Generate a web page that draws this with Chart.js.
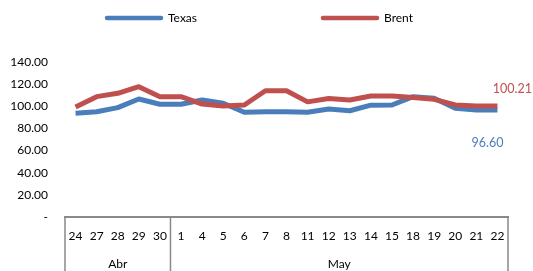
<!DOCTYPE html>
<html><head><meta charset="utf-8">
<script src="https://cdn.jsdelivr.net/npm/chart.js@4.4.0/dist/chart.umd.min.js"></script>
<style>html,body{margin:0;padding:0;background:#fff}#wrap{width:533px;height:271px;position:relative}</style>
</head><body><div id="wrap"><canvas id="c"></canvas></div>
<script>
const days = ['24','27','28','29','30','1','4','5','6','7','8','11','12','13','14','15','18','19','20','21','22'];
const months = ['Abr','May'];
const monthSpans = [5, 16];
const texas = [93.7,95.0,98.8,106.6,101.8,101.8,105.7,102.7,94.6,95.0,95.0,94.6,97.6,96.0,101.0,101.2,108.7,107.2,98.2,96.7,96.60];
const brent = [99.4,108.7,111.7,117.7,108.7,108.7,102.0,100.3,101.2,114.0,114.0,104.0,107.1,105.7,109.3,109.3,108.0,106.3,101.2,100.3,100.21];
const yMax = 140, yStep = 20;

const FONT = 'Lato, "Open Sans", sans-serif';
const BLUE = '#4A7EBB', RED = '#C0504D', GRAY = '#898989';

const customPlugin = {
  id: 'custom',
  afterDraw(chart) {
    const ctx = chart.ctx;
    const x = chart.scales.x;
    const area = chart.chartArea;
    ctx.save();
    // legend
    const legendItems = [{ds: 0, x: 107}, {ds: 1, x: 323}];
    ctx.font = '12px ' + FONT;
    ctx.textBaseline = 'middle';
    ctx.textAlign = 'left';
    legendItems.forEach(it => {
      const ds = chart.data.datasets[it.ds];
      ctx.strokeStyle = ds.borderColor;
      ctx.lineWidth = 4.5;
      ctx.lineCap = 'round';
      ctx.beginPath(); ctx.moveTo(it.x, 18); ctx.lineTo(it.x + 54, 18); ctx.stroke();
      ctx.fillStyle = '#000';
      ctx.fillText(ds.label, it.x + 61, 18);
    });
    // group box lines
    const bounds = [area.left];
    let idx = 0;
    monthSpans.forEach((n, i) => {
      idx += n;
      if (idx < days.length) bounds.push((x.getPixelForTick(idx - 1) + x.getPixelForTick(idx)) / 2);
    });
    bounds.push(area.right);
    ctx.strokeStyle = GRAY; ctx.lineWidth = 1.5; ctx.lineCap = 'butt';
    bounds.forEach(b => {
      ctx.beginPath(); ctx.moveTo(b, area.bottom); ctx.lineTo(b, chart.height); ctx.stroke();
    });
    ctx.fillStyle = '#000'; ctx.textAlign = 'center'; ctx.font = '12px ' + FONT;
    months.forEach((m, i) => {
      ctx.fillText(m, (bounds[i] + bounds[i + 1]) / 2, 264);
    });
    // data labels for last points
    ctx.font = '12.5px ' + FONT;
    const m0 = chart.getDatasetMeta(0), m1 = chart.getDatasetMeta(1);
    const p0 = m0.data[m0.data.length - 1], p1 = m1.data[m1.data.length - 1];
    ctx.fillStyle = BLUE; ctx.textAlign = 'center';
    ctx.fillText(texas[texas.length - 1].toFixed(2), p0.x - 10, p0.y + 33);
    ctx.fillStyle = RED; ctx.textAlign = 'right';
    ctx.fillText(brent[brent.length - 1].toFixed(2), chart.width - 1, p1.y - 17);
    ctx.restore();
  }
};

new Chart(document.getElementById('c'), {
  type: 'line',
  data: {
    labels: days,
    datasets: [
      {label: 'Texas', data: texas, borderColor: BLUE, backgroundColor: BLUE, borderWidth: 5, pointRadius: 0, tension: 0, borderJoinStyle: 'round', order: 1},
      {label: 'Brent', data: brent, borderColor: RED, backgroundColor: RED, borderWidth: 5, pointRadius: 0, tension: 0, borderJoinStyle: 'round', order: 0}
    ]
  },
  options: {
    responsive: true, maintainAspectRatio: false, animation: false,
    layout: {padding: {top: 62, right: 25, left: 0, bottom: 0}},
    plugins: {legend: {display: false}, tooltip: {enabled: false}},
    scales: {
      x: {
        offset: true,
        grid: {display: false, drawTicks: false},
        border: {display: true, color: GRAY, width: 2},
        ticks: {color: '#000', font: {family: FONT, size: 12}, padding: 12, maxRotation: 0, autoSkip: false},
        afterFit(s) { s.height = 54; }
      },
      y: {
        min: 0, max: yMax,
        grid: {display: false, drawTicks: false},
        border: {display: false},
        ticks: {stepSize: yStep, color: '#000', font: {family: FONT, size: 12}, padding: 17,
          callback: v => v === 0 ? '-' : v.toFixed(2)},
        afterFit(s) { s.width = 65; }
      }
    }
  },
  plugins: [customPlugin]
});
</script></body></html>
